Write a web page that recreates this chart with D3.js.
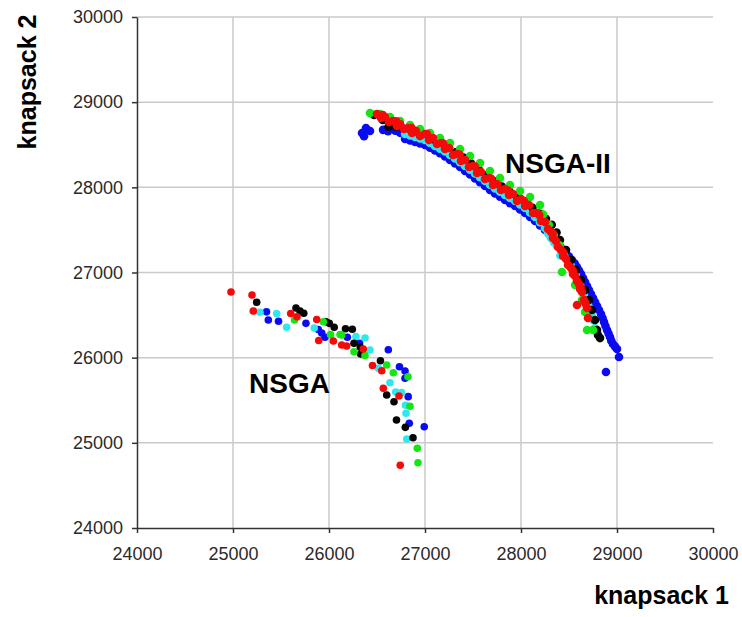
<!DOCTYPE html>
<html>
<head>
<meta charset="utf-8">
<script src="https://cdn.jsdelivr.net/npm/d3@7"></script>
<style>
body { margin: 0; background: #fff; }
svg { display: block; font-family: Arial, "Liberation Sans", sans-serif; }
</style>
</head>
<body>
<svg id="chart" width="742" height="617"></svg>
<script>
// axis ticks (same for both objectives)
var tickValues = [24000, 25000, 26000, 27000, 28000, 29000, 30000];

// ---- NSGA front (lower left) ----
var nsgaRed = [[24979,26771],[25198,26736],[25211,26548],[25601,26518],[25667,26481],[25872,26448],
    [25893,26201],[26045,26196],[26132,26149],[26184,26137],[26357,26102],[26453,25908],
    [26549,25846],[26566,25640],[26729,25550],[26742,24737]];
var nsgaBlack = [[25247,26651],[25656,26583],[25698,26548],[25737,26522],[25969,26422],[26003,26403],
    [26054,26356],[26172,26340],[26243,26333],[26260,26168],[26326,26122],[26330,26043],
    [26536,25963],[26601,25562],[26677,25483],[26703,25268],[26795,25182],[26875,25060]];
var nsgaCyan = [[25281,26534],[25455,26518],[25559,26358],[25846,26348],[26281,26248],[26375,26231],
    [26427,26090],[26514,25875],[26635,25706],[26695,25597],[26757,25589],[26797,25441],
    [26802,25347],[26810,25045]];
var nsgaBlue = [[25349,26538],[25368,26442],[25474,26427],[25760,26403],[25889,26331],[25924,26290],
    [25958,26239],[26191,26239],[26318,26168],[26618,26093],[26734,25894],[26792,25843],
    [26792,25758],[26825,25542],[26836,25230],[26992,25189]];
var nsgaGreen = [[25641,26442],[25941,26422],[26016,26270],[26115,26272],[26132,26266],[26260,26070],
    [26375,26025],[26601,25914],[26670,25823],[26823,25776],[26844,25429],[26920,24936],
    [26927,24766]];

// ---- NSGA-II front (upper right) ----
var nsga2Red = [[26500,28861],[26583,28826],[26667,28779],[26740,28743],[26823,28696],[26906,28661],
    [27000,28626],[27083,28579],[27167,28520],[27250,28462],[27333,28391],[27417,28321],
    [27500,28250],[27583,28180],[27667,28109],[27750,28039],[27833,27980],[27917,27922],
    [28000,27863],[28083,27792],[28167,27698],[28250,27593],[28313,27475],[28365,27370],
    [28417,27264],[28469,27158],[28521,27053],[28563,26959],[28604,26865],[28635,26771],
    [28656,26677],[28688,26583],[28698,26466],[28583,26618],
    [26542,28814],[26625,28767],[26708,28720],[26781,28685],[26865,28638],[26948,28603],
    [27042,28555],[27125,28509],[27208,28450],[27292,28380],[27375,28309],[27458,28239],
    [27542,28168],[27625,28098],[27708,28027],[27792,27969],[27875,27910],[27958,27839],
    [28042,27781],[28125,27698],[28208,27605],[28281,27511],[28333,27405],[28385,27300],
    [28438,27194],[28490,27088],[28542,26982],[28583,26900],[28615,26806],
    [26560,28850],[26700,28775],[26860,28695],[27020,28625],[27190,28515],[27360,28385],
    [27520,28245],[27690,28100],[27860,27965],[28030,27840],[28190,27675],[28330,27460],
    [28440,27235],[28540,27020],[28620,26825],[28670,26640]];
var nsga2Green = [[26427,28873],[26531,28861],[26635,28826],[26740,28779],[26844,28732],[26948,28685],
    [27052,28638],[27156,28579],[27260,28520],[27365,28450],[27469,28368],[27573,28285],
    [27677,28192],[27781,28109],[27885,28027],[27990,27957],[28094,27886],[28198,27792],
    [28230,27680],[28290,27560],[28340,27440],[28400,27320],[28450,27200],[28427,27006],
    [28563,26853],[28635,26677],[28667,26536],[28688,26325],[28750,26325]];
var nsga2Black = [[26470,28850],[26560,28790],[26620,28712],[26700,28712],[26760,28700],[26830,28690],
    [26900,28660],[26970,28625],[27040,28600],[27100,28560],[27170,28520],[27250,28470],
    [27320,28410],[27400,28350],[27480,28280],[27560,28210],[27640,28140],[27720,28070],
    [27800,28010],[27880,27950],[27960,27890],[28040,27830],[28120,27760],[28200,27690],
    [28260,27630],[28320,27560],[28370,27470],[28406,27381],[28469,27264],[28521,27147],
    [28573,27029],[28625,26912],[28667,26795],[28708,26677],[28740,26560],[28771,26442],
    [28792,26325],[28823,26230],[28802,26266]];
var nsga2Cyan = [[26792,28626],[26896,28591],[27000,28556],[27104,28486],[27208,28420],[27313,28338],
    [27417,28250],[27521,28162],[27625,28074],[27729,27986],[27833,27910],[27938,27839],
    [28042,27757],[28146,27652],[28250,27523],[28313,27405],[28375,27320],
    [28438,27264],[28490,27147],[28542,27029],[28594,26912],[28635,26794],[28677,26677],
    [28719,26560],[28750,26442],[28771,26348],
    [26844,28608],[26948,28574],[27052,28520],[27156,28453],[27260,28380],[27365,28295],
    [27469,28206],[27573,28118],[27677,28030],[27781,27948],[27885,27875],[27990,27800],
    [28094,27705],[28198,27590],[28280,27465],[28345,27352],[28410,27200],[28515,27090],
    [28570,26970],[28615,26850],[28656,26735],[28698,26620],[28735,26500]];
var nsga2Blue = [[26344,28637],[26385,28696],[26427,28661],[26365,28600],[26563,28675],[26615,28660],
    [26690,28665],[26740,28640],[26792,28567],[26896,28532],[27000,28497],[27104,28432],
    [27208,28362],[27313,28280],[27417,28192],[27521,28104],[27625,28015],[27729,27927],
    [27833,27851],[27938,27781],[28042,27698],[28146,27605],[28250,27499],[28333,27405],
    [28406,27311],[28469,27229],[28531,27147],[28583,27064],[28625,26982],[28667,26888],
    [28708,26794],[28750,26700],[28792,26606],[28833,26513],[28865,26419],[28896,26325],
    [28927,26243],[28958,26160],[29000,26102],[29021,26008],[28885,25832],
    [26845,28550],[26948,28515],[27052,28465],[27156,28400],[27260,28322],[27365,28238],
    [27469,28150],[27573,28060],[27677,27970],[27781,27890],[27885,27815],[27990,27740],
    [28094,27652],[28198,27552],[28292,27452],[28370,27358],[28438,27270],[28500,27188],
    [28560,27105],[28604,27023],[28646,26935],[28688,26841],[28729,26747],[28771,26653],
    [28812,26560],[28850,26466],[28880,26372],[28912,26284],[28940,26200],[28980,26130],
    [26870,28570],[26975,28530],[27080,28470],[27185,28400],[27290,28320],[27390,28240],
    [27495,28150],[27600,28065],[27700,27980],[27805,27900],[27910,27830],[28015,27750],
    [28120,27660],[28225,27560]];

// draw order: first is at the bottom
var colors = ['#0b0bf2', '#2ee8ee', '#050505', '#14e614', '#f50a0a'];
var fronts = [
    { r: 3.8, sets: [nsgaBlue, nsgaCyan, nsgaBlack, nsgaGreen, nsgaRed] },
    { r: 4.3, sets: [nsga2Blue, nsga2Cyan, nsga2Black, nsga2Green, nsga2Red] }
];

var svg = d3.select('#chart');

var x = d3.scaleLinear().domain([24000, 30000]).range([137, 713]);
var y = d3.scaleLinear().domain([24000, 30000]).range([528, 17]);

// grid
var grid = svg.append('g').attr('stroke', '#cacaca').attr('stroke-width', 1.5);
grid.selectAll('line.h').data(tickValues.slice(1)).enter().append('line')
    .attr('x1', x(24000)).attr('x2', x(30000))
    .attr('y1', function (d) { return y(d); }).attr('y2', function (d) { return y(d); });
grid.selectAll('line.v').data(tickValues.slice(1, -1)).enter().append('line')
    .attr('y1', y(24000)).attr('y2', y(30000))
    .attr('x1', function (d) { return x(d); }).attr('x2', function (d) { return x(d); });

// axes
var xAxis = svg.append('g').attr('transform', 'translate(0,' + y(24000) + ')')
    .call(d3.axisBottom(x).tickValues(tickValues).tickFormat(d3.format('d'))
        .tickSize(5).tickSizeOuter(0).tickPadding(14));
var yAxis = svg.append('g').attr('transform', 'translate(' + x(24000) + ',0)')
    .call(d3.axisLeft(y).tickValues(tickValues).tickFormat(d3.format('d'))
        .tickSize(5).tickSizeOuter(0).tickPadding(9));

[xAxis, yAxis].forEach(function (a) {
    a.selectAll('path, line').attr('stroke', '#333').attr('stroke-width', 1.5);
    a.selectAll('text').attr('fill', '#2a2a2a').style('font-size', '18px')
        .style('font-family', 'Arial, "Liberation Sans", sans-serif');
});

// points
fronts.forEach(function (front) {
    front.sets.forEach(function (pts, i) {
        svg.append('g').selectAll('circle').data(pts).enter().append('circle')
            .attr('cx', function (d) { return x(d[0]); })
            .attr('cy', function (d) { return y(d[1]); })
            .attr('r', front.r)
            .attr('fill', colors[i]);
    });
});

// labels
svg.append('text').attr('x', 505).attr('y', 173)
    .style('font-size', '28px').style('font-weight', 'bold').text('NSGA-II');
svg.append('text').attr('x', 249).attr('y', 393)
    .style('font-size', '28px').style('font-weight', 'bold').text('NSGA');

svg.append('text').attr('text-anchor', 'end').attr('x', 729).attr('y', 604)
    .style('font-size', '25px').style('font-weight', 'bold').text('knapsack 1');
svg.append('text').attr('text-anchor', 'middle')
    .attr('transform', 'translate(36,82) rotate(-90)')
    .style('font-size', '25px').style('font-weight', 'bold').text('knapsack 2');
</script>
</body>
</html>
